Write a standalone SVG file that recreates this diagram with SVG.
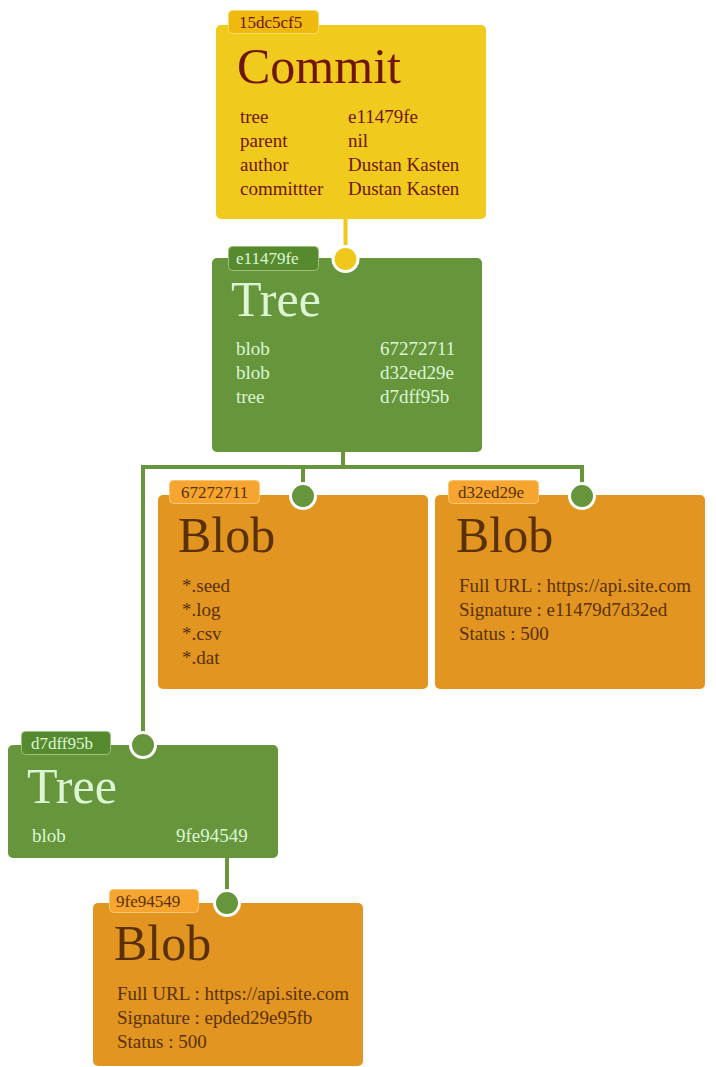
<svg xmlns="http://www.w3.org/2000/svg" width="716" height="1067" viewBox="0 0 716 1067">
<style>
text{font-family:"Liberation Serif","Times New Roman",serif}
.title{font-size:50px}
.row{font-size:19px}
.tagt{font-size:17px}
.commit .box{fill:#f1ca1e}
.commit .tag{fill:#efb910;stroke:#f7dc6a;stroke-width:1}
.commit text{fill:#6e150c}
.tree .box{fill:#66953c}
.tree .tag{fill:#578a2f;stroke:#9cc27a;stroke-width:1}
.tree text{fill:#dcf6d4}
.blob .box{fill:#e29520}
.blob .tag{fill:#f5a530;stroke:#f8c46e;stroke-width:1}
.blob text{fill:#5a3103}
.line{fill:none;stroke-width:4}
.g{stroke:#66953c}
.y{stroke:#f0c81c}
.dot{stroke:#fff;stroke-width:3}
</style>

<g id="commit-15dc5cf5" class="commit">
<rect class="box" x="216" y="25" width="270" height="194" rx="5"/>
<rect class="tag" x="228.5" y="10.5" width="90" height="23" rx="4"/>
<text class="tagt" x="239" y="28">15dc5cf5</text>
<text class="title" x="237" y="83">Commit</text>
<text class="row" x="240" y="123">tree</text><text class="row" x="348" y="123">e11479fe</text>
<text class="row" x="240" y="147">parent</text><text class="row" x="348" y="147">nil</text>
<text class="row" x="240" y="171">author</text><text class="row" x="348" y="171">Dustan Kasten</text>
<text class="row" x="240" y="195">committter</text><text class="row" x="348" y="195">Dustan Kasten</text>
</g>

<g id="tree-e11479fe" class="tree">
<rect class="box" x="212" y="258" width="270" height="194" rx="5"/>
<rect class="tag" x="228.5" y="246.5" width="90" height="24" rx="4"/>
<text class="tagt" x="236" y="264">e11479fe</text>
<text class="title" x="231" y="316">Tree</text>
<text class="row" x="236" y="355">blob</text><text class="row" x="380" y="355">67272711</text>
<text class="row" x="236" y="379">blob</text><text class="row" x="380" y="379">d32ed29e</text>
<text class="row" x="236" y="403">tree</text><text class="row" x="380" y="403">d7dff95b</text>
</g>

<g id="blob-67272711" class="blob">
<rect class="box" x="158" y="495" width="270" height="194" rx="5"/>
<rect class="tag" x="169.5" y="480.5" width="90" height="23" rx="4"/>
<text class="tagt" x="181" y="498">67272711</text>
<text class="title" x="178" y="552">Blob</text>
<text class="row" x="182" y="592">*.seed</text>
<text class="row" x="182" y="616">*.log</text>
<text class="row" x="182" y="640">*.csv</text>
<text class="row" x="182" y="664">*.dat</text>
</g>

<g id="blob-d32ed29e" class="blob">
<rect class="box" x="435" y="495" width="270" height="194" rx="5"/>
<rect class="tag" x="448.5" y="480.5" width="90" height="23" rx="4"/>
<text class="tagt" x="458" y="498">d32ed29e</text>
<text class="title" x="456" y="552">Blob</text>
<text class="row" x="459" y="592">Full URL : https://api.site.com</text>
<text class="row" x="459" y="616">Signature : e11479d7d32ed</text>
<text class="row" x="459" y="640">Status : 500</text>
</g>

<g id="tree-d7dff95b" class="tree">
<rect class="box" x="8" y="745" width="270" height="113" rx="5"/>
<rect class="tag" x="21.5" y="731.5" width="89" height="23" rx="4"/>
<text class="tagt" x="31" y="749">d7dff95b</text>
<text class="title" x="27" y="803">Tree</text>
<text class="row" x="32" y="842">blob</text><text class="row" x="176" y="842">9fe94549</text>
</g>

<g id="blob-9fe94549" class="blob">
<rect class="box" x="93" y="903" width="270" height="163" rx="5"/>
<rect class="tag" x="109.5" y="889.5" width="89" height="23" rx="4"/>
<text class="tagt" x="116" y="907">9fe94549</text>
<text class="title" x="114" y="960">Blob</text>
<text class="row" x="117" y="1000">Full URL : https://api.site.com</text>
<text class="row" x="117" y="1024">Signature : epded29e95fb</text>
<text class="row" x="117" y="1048">Status : 500</text>
</g>

<g id="connectors">
<line class="line y" x1="345.5" y1="219" x2="345.5" y2="258"/>
<circle class="dot" cx="345.5" cy="259" r="12.5" fill="#f0c81c"/>
<polyline class="line g" points="343,452 343,467"/>
<polyline class="line g" points="143,745 143,467 582,467 582,495"/>
<line class="line g" x1="303" y1="467" x2="303" y2="495"/>
<circle class="dot" cx="303" cy="496" r="12.5" fill="#66953c"/>
<circle class="dot" cx="582" cy="496" r="12.5" fill="#66953c"/>
<circle class="dot" cx="143" cy="745" r="12.5" fill="#66953c"/>
<line class="line g" x1="227" y1="858" x2="227" y2="903"/>
<circle class="dot" cx="227" cy="903" r="12.5" fill="#66953c"/>
</g>
</svg>
